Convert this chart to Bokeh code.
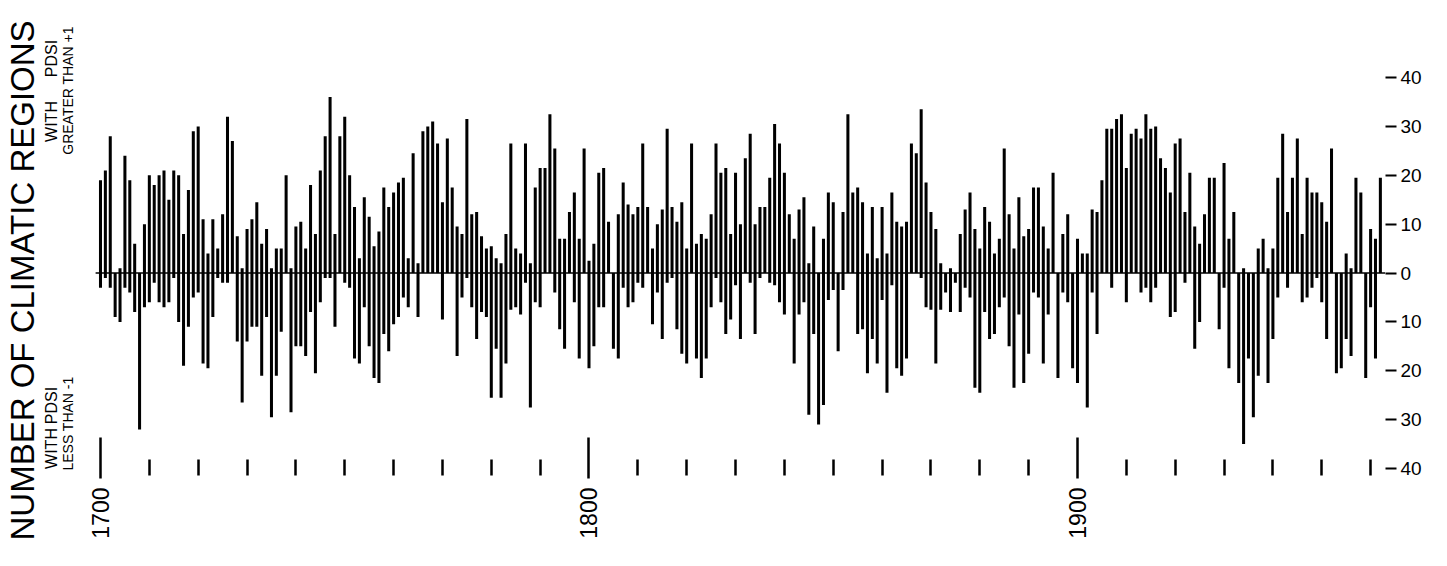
import math
import numpy as np
from bokeh.plotting import figure
from bokeh.models import Range1d, FixedTicker, Title
from bokeh.embed import file_html
from bokeh.resources import INLINE
from bokeh.core.properties import value

# ---------------- data ----------------
years = list(range(1700, 1963))

# number of climatic regions with PDSI greater than +1
wet_regions = [
    19, 21, 28, 0, 1, 24, 19, 6, 0, 10,
    20, 18, 20, 21, 15, 21, 20, 8, 17, 29,
    30, 11, 4, 11, 5, 12, 32, 27, 7.5, 1,
    9, 11, 14.5, 6, 9, 1, 5, 5, 20, 1,
    9.5, 10.5, 5, 18, 8, 21, 28, 36, 8, 28,
    32, 20, 13.5, 3, 15.5, 11.5, 5.5, 8.5, 17.5, 13.5,
    16.5, 18.5, 19.5, 3, 24.5, 2, 29, 30, 31, 26.5,
    14.5, 27.5, 17.5, 9.5, 8, 31.5, 12, 12.5, 7.5, 5,
    5.5, 3, 2, 8, 26.5, 5, 4, 26.5, 2, 17.5,
    21.5, 21.5, 32.5, 25.5, 7, 7, 12.5, 16.5, 7, 25.5,
    2.5, 6, 20.5, 21.5, 10.5, 0, 12, 18.5, 14, 12,
    13.5, 26.5, 13.5, 5, 10, 13, 29.5, 13.5, 10.5, 14.5,
    5, 26.5, 6, 8, 7, 12, 26.5, 20.5, 21.5, 8,
    20.5, 10, 23.5, 28.5, 10, 13.5, 13.5, 19.5, 30.5, 26.5,
    20.5, 12, 7, 13, 15.5, 2, 9.5, 0, 7, 16.5,
    14.5, 0, 12.5, 32.5, 16.5, 17.5, 14.5, 4, 13.5, 3,
    13.5, 4, 16.5, 10.5, 9.5, 10.5, 26.5, 24.5, 33.5, 18.5,
    12.5, 9, 2, 0, 1, 0, 8, 13, 16.5, 9,
    5, 13.5, 10.5, 4, 7, 25.5, 12, 5, 15.5, 7.5,
    9, 17.5, 17.5, 9.5, 5, 20.5, 0, 8, 12, 0,
    7, 4, 4, 13, 12.5, 19, 29.5, 29.5, 31.5, 32.5,
    21.5, 28.5, 29.5, 27.5, 32.5, 29.5, 30, 23.5, 21.5, 16.5,
    26.5, 27.5, 12.5, 20.5, 9.5, 6, 12, 19.5, 19.5, 0,
    22.5, 7, 12.5, 0, 1, 0, 0, 5, 7, 1,
    5, 19.5, 28.5, 12.5, 19.5, 27.5, 8, 19.5, 16.5, 16.5,
    14.5, 10.5, 25.5, 0, 0, 4, 1, 19.5, 16.5, 0,
    9, 7, 19.5,
]

# number of climatic regions with PDSI less than -1
dry_regions = [
    3, 1, 3, 9, 10, 3, 4, 8, 32, 7,
    6, 2, 6, 7, 6, 1, 10, 19, 11, 5,
    4, 18.5, 19.5, 9, 1, 2, 2, 0, 14, 26.5,
    14, 11, 11, 21, 9, 29.5, 21, 12, 0, 28.5,
    15, 15, 17, 8, 20.5, 6, 1, 1, 11, 0,
    2, 3, 17.5, 18.5, 7, 15, 21.5, 22.5, 12.5, 16,
    10.5, 9, 5, 7, 0, 9, 0, 0, 0, 0,
    9.5, 0, 0, 17, 5, 1, 7, 13.5, 8, 9,
    25.5, 15.5, 25.5, 18.5, 7.5, 7, 8.5, 2, 27.5, 6,
    7, 0, 0, 4, 11.5, 15.5, 0, 6, 17.5, 0,
    19.5, 15, 7, 7, 0, 15.5, 17.5, 3, 7, 6,
    2, 3, 0, 10.5, 4, 13.5, 2, 1, 11.5, 16.5,
    18.5, 0, 17.5, 21.5, 17.5, 7, 1, 6, 12.5, 9.5,
    2.5, 13.5, 0, 2, 12.5, 1, 0, 2, 2.5, 6,
    8.5, 0, 18.5, 8.5, 6, 29, 12.5, 31, 27, 5.5,
    3.5, 16, 3.5, 0, 0, 12.5, 11.5, 20.5, 13.5, 18.5,
    5.5, 24.5, 2.5, 19.5, 21, 17.5, 0, 0, 1, 7,
    7.5, 18.5, 7.5, 4, 8, 2, 8, 3, 5, 23.5,
    24.5, 8, 13.5, 12.5, 7, 5, 15, 23.5, 8.5, 22.5,
    16.5, 4, 5, 18.5, 8.5, 0, 21.5, 4, 6, 19.5,
    22.5, 0, 27.5, 4, 12.5, 0, 0, 3, 0, 0,
    6, 0, 0, 4, 3, 6, 3, 0, 0, 9,
    8, 0, 2, 0, 15.5, 10, 0, 0, 0, 11.5,
    3, 19.5, 0, 22.5, 35, 17.5, 29.5, 21, 0, 22.5,
    13.5, 5, 0, 3, 0, 0, 6, 5, 3, 1,
    6, 13.5, 0, 20.5, 19.5, 13.5, 17, 0, 0, 21.5,
    7, 17.5, 0,
]

y_ticks = [-40, -30, -20, -10, 0, 10, 20, 30, 40]
y_tick_labels = {t: str(abs(t)) for t in y_ticks}
century_ticks = [1700, 1800, 1900]
decade_ticks = [d for d in range(1710, 1961, 10) if d % 100 != 0]

title_main = "NUMBER OF CLIMATIC REGIONS"
word_with = "WITH"
word_pdsi = "PDSI"
sub_upper = "GREATER THAN +1"
sub_lower = "LESS THAN -1"

FONT = "Liberation Sans"
W, H = 1430, 550

# frame geometry (pixels in the figure); the frame reaches left over the sub-labels
FRAME_L, FRAME_R, FRAME_T, FRAME_B = 40, 1385, 20, 472
X0, X1 = 1687.72, 1963.05
Y0, Y1 = -40.82, 51.67

# ---------------- chart ----------------
p = figure(width=W, height=H,
           x_range=Range1d(X0, X1), y_range=Range1d(Y0, Y1),
           output_backend="svg", toolbar_location=None,
           x_axis_location="below", y_axis_location="right",
           min_border_left=FRAME_L, min_border_right=W - FRAME_R,
           min_border_top=FRAME_T, min_border_bottom=H - FRAME_B)
p.grid.visible = False
p.outline_line_color = None
p.background_fill_color = "white"

neg_dry = [-v for v in dry_regions]
p.vbar(x=years, top=wet_regions, bottom=0, width=0.62, fill_color="black", line_color=None)
p.vbar(x=years, top=0, bottom=neg_dry, width=0.62, fill_color="black", line_color=None)
# zero line spanning the record
p.line(x=[years[0] - 1, years[-1] + 1], y=[0, 0], line_color="black", line_width=1.5)

xa = p.xaxis[0]
xa.ticker = FixedTicker(ticks=century_ticks, minor_ticks=decade_ticks)
xa.axis_line_color = None
xa.major_tick_in = 35
xa.major_tick_out = 6
xa.minor_tick_in = 13
xa.minor_tick_out = 3
xa.major_tick_line_width = 2.5
xa.minor_tick_line_width = 2.5
xa.major_tick_line_color = "black"
xa.minor_tick_line_color = "black"
xa.major_label_orientation = math.pi / 2
xa.major_label_standoff = 9
xa.major_label_text_font = FONT
xa.major_label_text_font_size = "23px"
xa.major_label_text_color = "black"

ya = p.yaxis[0]
ya.ticker = FixedTicker(ticks=y_ticks)
ya.major_label_overrides = y_tick_labels
ya.axis_line_color = None
ya.minor_tick_line_color = None
ya.major_tick_in = 0
ya.major_tick_out = 11
ya.major_tick_line_width = 2
ya.major_tick_line_color = "black"
ya.major_label_standoff = 4
ya.major_label_text_font = FONT
ya.major_label_text_font_size = "19px"
ya.major_label_text_color = "black"

# big vertical title in the left panel
p.add_layout(Title(text=title_main, align="left", offset=-68, standoff=0,
                   text_font=FONT, text_font_size="33px", text_font_style="normal",
                   text_color="black"), "left")

# sub-labels drawn inside the (extended) frame
def px_to_x(ix):
    return X0 + (ix - FRAME_L) * (X1 - X0) / (FRAME_R - FRAME_L)

def px_to_y(iy):
    return Y1 - (iy - FRAME_T) * (Y1 - Y0) / (FRAME_B - FRAME_T)

def vtext(ix, iy, txt, size):
    p.text(x=[px_to_x(ix)], y=[px_to_y(iy)], text=[txt], angle=math.pi / 2,
           text_align="center", text_baseline="middle",
           text_font=value(FONT), text_font_size=size, text_color="black")

vtext(51, 121, word_with, "16px")
vtext(51, 58, word_pdsi, "16px")
vtext(67, 90, sub_upper, "14px")
vtext(51, 448, word_with, "16px")
vtext(51, 405, word_pdsi, "16px")
vtext(67, 423, sub_lower, "14px")

open("out.html", "w").write(file_html(p, INLINE))
